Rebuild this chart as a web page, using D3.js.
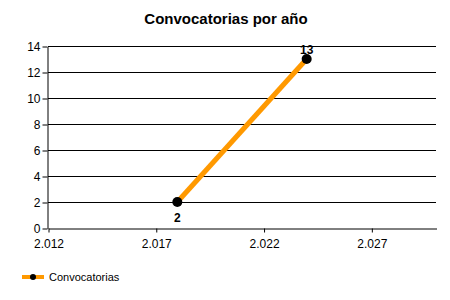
<!DOCTYPE html>
<html>
<head>
<meta charset="utf-8">
<script src="https://cdn.jsdelivr.net/npm/d3@7"></script>
<style>
  body { margin: 0; background: #fff; }
  svg { font-family: "Liberation Sans", Arial, sans-serif; }
</style>
</head>
<body>
<div id="chart"></div>
<script>
// data
const years = [2018, 2024];
const convocatorias = [2, 13];
const xTicks = [2012, 2017, 2022, 2027];
const yTicks = [0, 2, 4, 6, 8, 10, 12, 14];
const seriesName = 'Convocatorias';
const title = 'Convocatorias por año';

const width = 450, height = 300;
const margin = { top: 46, right: 14, bottom: 72, left: 48 };

const svg = d3.select('#chart')
    .append('svg')
    .attr('width', width)
    .attr('height', height);

const x = d3.scaleLinear()
    .domain([2012, 2030])
    .range([margin.left, width - margin.right]);

const y = d3.scaleLinear()
    .domain([0, 14])
    .range([height - margin.bottom, margin.top]);

// format like "2.012"
const fmtYear = d => d3.format(',')(d).replace(',', '.');

// title
svg.append('text')
    .attr('x', 226)
    .attr('y', 24)
    .attr('text-anchor', 'middle')
    .style('font-size', '15px')
    .style('font-weight', 'bold')
    .text(title);

// horizontal gridlines
svg.append('g')
    .selectAll('line')
    .data(yTicks.filter(d => d > 0))
    .enter()
    .append('line')
    .attr('x1', margin.left)
    .attr('x2', width - margin.right)
    .attr('y1', d => Math.round(y(d)) + 0.5)
    .attr('y2', d => Math.round(y(d)) + 0.5)
    .attr('stroke', '#000');

// y axis
const yAxis = svg.append('g')
    .attr('transform', `translate(${margin.left - 0.5},0.5)`)
    .call(d3.axisLeft(y).tickValues(yTicks).tickSize(5).tickSizeOuter(0));
yAxis.select('.domain').attr('stroke', '#000');
yAxis.selectAll('text').style('font-size', '12px').attr('fill', '#000').attr('dx', '1');

// x axis
const xAxis = svg.append('g')
    .attr('transform', `translate(0.5,${Math.round(y(0)) + 0.5})`)
    .call(d3.axisBottom(x).tickValues(xTicks).tickFormat(fmtYear).tickSize(4).tickSizeOuter(0));
xAxis.select('.domain').attr('stroke', '#000');
xAxis.selectAll('text').style('font-size', '12px').attr('fill', '#000').attr('dy', '1.05em');

const points = years.map((d, i) => ({ year: d, value: convocatorias[i] }));

// line
svg.append('path')
    .datum(points)
    .attr('fill', 'none')
    .attr('stroke', '#FF9900')
    .attr('stroke-width', 5)
    .attr('d', d3.line().x(d => x(d.year)).y(d => y(d.value)));

// markers
svg.selectAll('circle.pt')
    .data(points)
    .enter()
    .append('circle')
    .attr('class', 'pt')
    .attr('cx', d => x(d.year))
    .attr('cy', d => y(d.value))
    .attr('r', 5)
    .attr('fill', '#000');

// value labels (first below, others above)
svg.selectAll('text.lbl')
    .data(points)
    .enter()
    .append('text')
    .attr('class', 'lbl')
    .attr('x', d => x(d.year))
    .attr('y', (d, i) => i === 0 ? y(d.value) + 20 : y(d.value) - 5)
    .attr('text-anchor', 'middle')
    .style('font-size', '12px')
    .style('font-weight', 'bold')
    .text(d => d.value);

// legend
const lg = svg.append('g').attr('transform', 'translate(22,277)');
lg.append('line')
    .attr('x1', 0).attr('x2', 22)
    .attr('y1', 0).attr('y2', 0)
    .attr('stroke', '#FF9900')
    .attr('stroke-width', 4);
lg.append('circle')
    .attr('cx', 11).attr('cy', 0).attr('r', 3)
    .attr('fill', '#000');
lg.append('text')
    .attr('x', 27)
    .attr('y', 4)
    .style('font-size', '11px')
    .text(seriesName);
</script>
</body>
</html>
